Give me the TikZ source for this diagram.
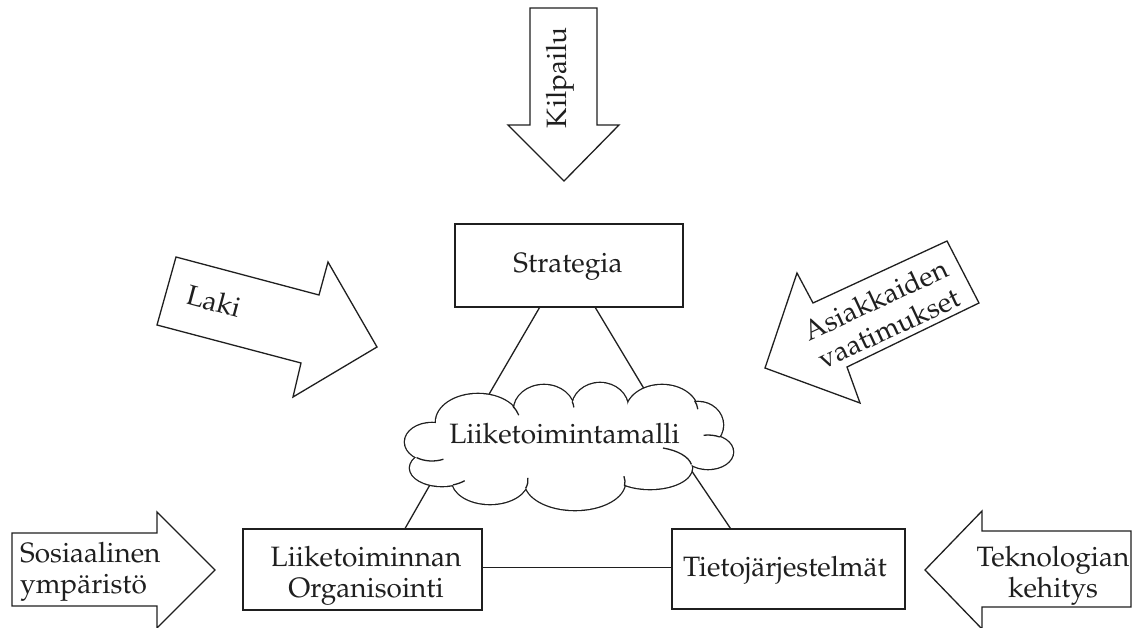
\documentclass[tikz,border=0pt]{standalone}
\usepackage[T1]{fontenc}
\usepackage{mathpazo}
\usetikzlibrary{calc}

\tikzset{
  ln/.style={line width=1.3pt, draw=black!88},
  blockarrow/.style={ln, fill=white, line join=miter},
  box/.style={ln, fill=white, rectangle, inner sep=0pt},
  lbl/.style={font=\fontsize{28}{31.5}\selectfont, inner sep=0pt, text=black!88},
}
% part of a puff outline: centre x, centre y, x radius, y radius, from angle, to angle
\newcommand\puffarc[6]{%
  \draw[ln] ([shift={(#5:#3pt and #4pt)}]#1,#2)
    arc[start angle=#5, end angle=#6, x radius=#3pt, y radius=#4pt];}

\begin{document}
\begin{tikzpicture}[x=1pt, y=-1pt]
  \useasboundingbox (0,0) rectangle (1135,628);
  \fill[white] (0,0) rectangle (1135,628);

  % ---- outside forces (block arrows) ----
  % Kilpailu, pointing down
  \draw[blockarrow] (530,8) -- (597,8) -- (597,125) -- (619,125) -- (564,181)
    -- (508,125) -- (530,125) -- cycle;
  \node[lbl, rotate=90] (kilp) at (560,78) {Kilpailu};

  % Laki, pointing down-right
  \draw[blockarrow] (176,257) -- (319,295) -- (328,262) -- (377,347)
    -- (293,397) -- (301,363) -- (157,325) -- cycle;
  \node[lbl, rotate=-15] (laki) at (214,301) {Laki};

  % Asiakkaiden vaatimukset, pointing down-left
  \draw[blockarrow] (947,241) -- (979,303) -- (847,367) -- (860,403)
    -- (765,368) -- (797,273) -- (813,303) -- cycle;
  \node[lbl, rotate=25, align=center] (asiak) at (882,314) {Asiakkaiden\\vaatimukset};

  % Sosiaalinen ympäristö, pointing right
  \draw[blockarrow] (12,533) -- (157,533) -- (157,512) -- (215,570)
    -- (157,628) -- (157,606) -- (12,606) -- cycle;
  \node[lbl, align=left, anchor=west] (sos) at (20,572) {Sosiaalinen\\ymp\"arist\"o};

  % Teknologian kehitys, pointing left
  \draw[blockarrow] (1131,531) -- (982,531) -- (982,511) -- (925,570)
    -- (982,629) -- (982,607) -- (1131,607) -- cycle;
  \node[lbl, align=center] (tekn) at (1053,576) {Teknologian\\kehitys};

  % ---- core elements ----
  \node[box, minimum width=228pt, minimum height=83pt] (strat) at (569,265.5) {};
  \node[lbl, anchor=base] (stratT) at (568,273) {Strategia};

  \node[box, minimum width=239pt, minimum height=81pt] (org) at (362.5,569.5) {};
  \node[lbl, align=center] (orgT) at (366,576) {Liiketoiminnan\\Organisointi};

  \node[box, minimum width=233pt, minimum height=80pt] (tj) at (788.5,569) {};
  \node[lbl, anchor=base] (tjT) at (785,576) {Tietoj\"arjestelm\"at};

  % attachment points on the cloud rim
  \coordinate (cNW) at (488,396);
  \coordinate (cNE) at (646,392);
  \coordinate (cSW) at (431,483);
  \coordinate (cSE) at (689,467);

  % triangle of links
  \draw[ln] (strat.235) -- (cNW);
  \draw[ln] (strat.302) -- (cNE);
  \draw[ln] (org.44.3) -- (cSW);
  \draw[ln] (tj.145.6) -- (cSE);
  \draw[ln] ([yshift=2pt]org.east) -- ([yshift=2pt]org.east -| tj.west);

  % ---- cloud: union of puffs ----
  \def\puffs{432/442/27/19, 478/422/42/28, 544/410/30/25, 600/408/28/25,
             662/412/36/27, 698/425/25/23, 708/452/25/17, 650/468/42/21,
             575/482/50/28, 490/480/38/24, 442/468/32/18}
  \foreach \cx/\cy/\rx/\ry in \puffs {
    \draw[line width=2.6pt, draw=black!88] (\cx,\cy) ellipse [x radius=\rx pt, y radius=\ry pt];
  }
  \foreach \cx/\cy/\rx/\ry in \puffs {
    \fill[white] (\cx,\cy) ellipse [x radius=\rx pt, y radius=\ry pt];
  }
  \fill[white] (569,447) ellipse [x radius=130pt, y radius=38pt];
  % short inner strokes where puffs meet
  \puffarc{478}{422}{42}{28}{34}{14}
  \puffarc{544}{410}{30}{25}{20}{6}
  \puffarc{662}{412}{36}{27}{25}{6}
  \puffarc{708}{452}{25}{17}{62}{100}
  \puffarc{650}{468}{42}{21}{10}{72}
  \puffarc{575}{482}{50}{28}{-8}{12}
  \puffarc{490}{480}{38}{24}{-20}{5}
  \puffarc{442}{468}{32}{18}{-70}{-45}
  \puffarc{432}{442}{27}{19}{-125}{-65}

  \node[lbl, anchor=base] (lm) at (564.5,443) {Liiketoimintamalli};
\end{tikzpicture}
\end{document}
